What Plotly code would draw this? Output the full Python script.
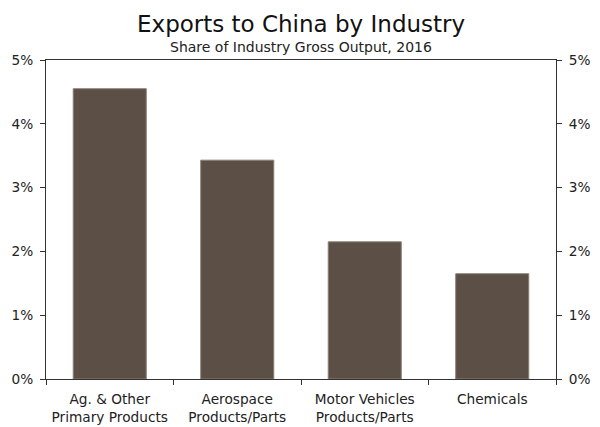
import plotly.graph_objects as go

industries = ["Ag. & Other<br>Primary Products", "Aerospace<br>Products/Parts",
              "Motor Vehicles<br>Products/Parts", "Chemicals"]
share_pct = [4.55, 3.43, 2.15, 1.65]

y_ticks = [0, 1, 2, 3, 4, 5]
y_labels = ["0%", "1%", "2%", "3%", "4%", "5%"]

FONT = "DejaVu Sans, Verdana, sans-serif"
bar_color = "#5c4f45"

fig = go.Figure()
fig.add_trace(go.Bar(x=industries, y=share_pct, marker_color=bar_color,
                     marker_line=dict(color="#8a8078", width=1), width=0.573,
                     hoverinfo="skip"))
# invisible trace to get the right-hand axis
fig.add_trace(go.Scatter(x=industries, y=share_pct, yaxis="y2", mode="markers",
                         marker=dict(opacity=0), hoverinfo="skip"))

axis_font = dict(family=FONT, size=13.7, color="#222222")
common_y = dict(range=[0, 5], tickvals=y_ticks, ticktext=y_labels, showline=True,
                linecolor="#333333", ticks="outside", ticklen=5, tickcolor="#333333",
                tickfont=axis_font, showgrid=False, zeroline=False, automargin=False,
                ticklabelstandoff=4)
fig.update_layout(
    width=600, height=427,
    margin=dict(l=46, r=44, t=60, b=48, autoexpand=False),
    paper_bgcolor="white", plot_bgcolor="white",
    showlegend=False,
    font=dict(family=FONT, color="#222222"),
    xaxis=dict(showline=True, linecolor="#333333", linewidth=1, mirror=True,
               ticks="outside", tickson="boundaries", ticklen=5, tickcolor="#333333",
               tickfont=axis_font, showgrid=False, automargin=False,
               ticklabelstandoff=8),
    yaxis=common_y,
    yaxis2=dict(common_y, overlaying="y", side="right"),
    annotations=[
        dict(text="Exports to China by Industry", x=0.5, y=1, xref="paper", yref="paper",
             yanchor="bottom", yshift=21, showarrow=False,
             font=dict(family=FONT, size=23, color="#111111")),
        dict(text="Share of Industry Gross Output, 2016", x=0.5, y=1, xref="paper",
             yref="paper", yanchor="bottom", yshift=3, showarrow=False,
             font=dict(family=FONT, size=14, color="#222222")),
    ],
)

fig.write_html("out.html", config={"displayModeBar": False},
               post_script="document.body.style.margin='0';")
